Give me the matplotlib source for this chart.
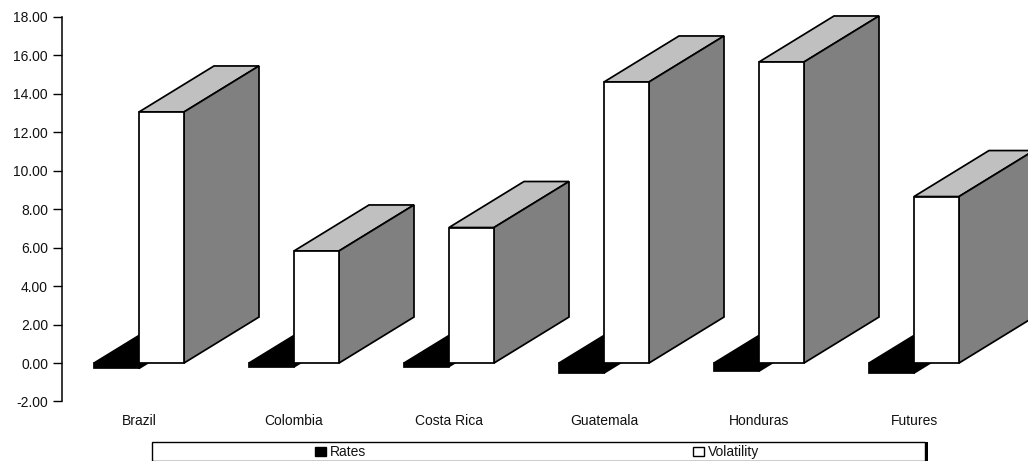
import matplotlib
matplotlib.use('Agg')
import matplotlib.pyplot as plt
import matplotlib.patches as patches

plt.rcParams['font.family'] = ['Liberation Sans', 'DejaVu Sans']

categories = ['Brazil', 'Colombia', 'Costa Rica', 'Guatemala', 'Honduras', 'Futures']
rates = [-0.28, -0.20, -0.18, -0.52, -0.42, -0.52]
volatility = [13.06, 5.83, 7.05, 14.62, 15.66, 8.66]
y_ticks = [-2, 0, 2, 4, 6, 8, 10, 12, 14, 16, 18]

W, H = 1028, 461
bar_w = 45 / 155
depth_x = 75 / 155
depth_y = 46 / 19.22
font_size = 10
lw = 1.25


def bar3d(ax, x, value, front, top, side):
    ax.bar(x, value, bar_w, align='edge', color=front, edgecolor='black', linewidth=lw, zorder=3)
    top_pts = [(x, value), (x + depth_x, value + depth_y), (x + bar_w + depth_x, value + depth_y), (x + bar_w, value)]
    side_pts = [(x + bar_w, 0), (x + bar_w + depth_x, depth_y), (x + bar_w + depth_x, value + depth_y), (x + bar_w, value)]
    if value < 0:
        # bar hangs below zero, so the lid sits on the zero line
        top_pts = [(x, 0), (x + depth_x, depth_y), (x + bar_w + depth_x, depth_y), (x + bar_w, 0)]
    for pts, c in ((top_pts, top), (side_pts, side)):
        ax.add_patch(patches.Polygon(pts, closed=True, facecolor=c, edgecolor='black', linewidth=lw, zorder=2, clip_on=False))


fig = plt.figure(figsize=(W / 100, H / 100), dpi=100)
ax = fig.add_axes([62 / W, (H - 401.5) / H, (W - 62) / W, (401.5 - 17) / H])
ax.set_xlim(-77 / 155, (W - 139) / 155)
ax.set_ylim(-2, 18)

for i in range(len(categories)):
    bar3d(ax, i - bar_w, rates[i], 'black', 'black', 'black')
    bar3d(ax, i, volatility[i], 'white', '#C0C0C0', '#808080')

for s in ('top', 'right', 'bottom'):
    ax.spines[s].set_visible(False)
ax.spines['left'].set_linewidth(1.1)
ax.patch.set_visible(False)

ax.set_yticks(y_ticks)
ax.set_yticklabels(['%.2f' % v for v in y_ticks], fontsize=font_size, color='#111111')
ax.tick_params(axis='y', length=6.5, width=1.0, pad=3.5)
ax.set_xticks(range(len(categories)))
ax.set_xticklabels(categories, fontsize=font_size, color='#111111')
ax.tick_params(axis='x', length=0, pad=9)

# legend box, laid out in figure pixels
def px(x, y):
    return x / W, 1 - y / H

x0, y0 = px(152, 461)
fig.add_artist(patches.Rectangle((926 / W, 0), 2 / W, 19 / H, facecolor='black', edgecolor='none', transform=fig.transFigure))
fig.add_artist(patches.Rectangle((x0, y0), 773 / W, 19.5 / H, facecolor='white', edgecolor='black', linewidth=1.0, transform=fig.transFigure))
for label, sx, fc in (('Rates', 314.5, 'black'), ('Volatility', 692.5, 'white')):
    bx, by = px(sx, 456)
    fig.add_artist(patches.Rectangle((bx, by), 11 / W, 9 / H, facecolor=fc, edgecolor='black', linewidth=1.0, transform=fig.transFigure))
    tx, ty = px(sx + 15, 451.5)
    fig.text(tx, ty, label, fontsize=font_size, color='#111111', va='center', ha='left')

fig.savefig('out.png', dpi=100)
